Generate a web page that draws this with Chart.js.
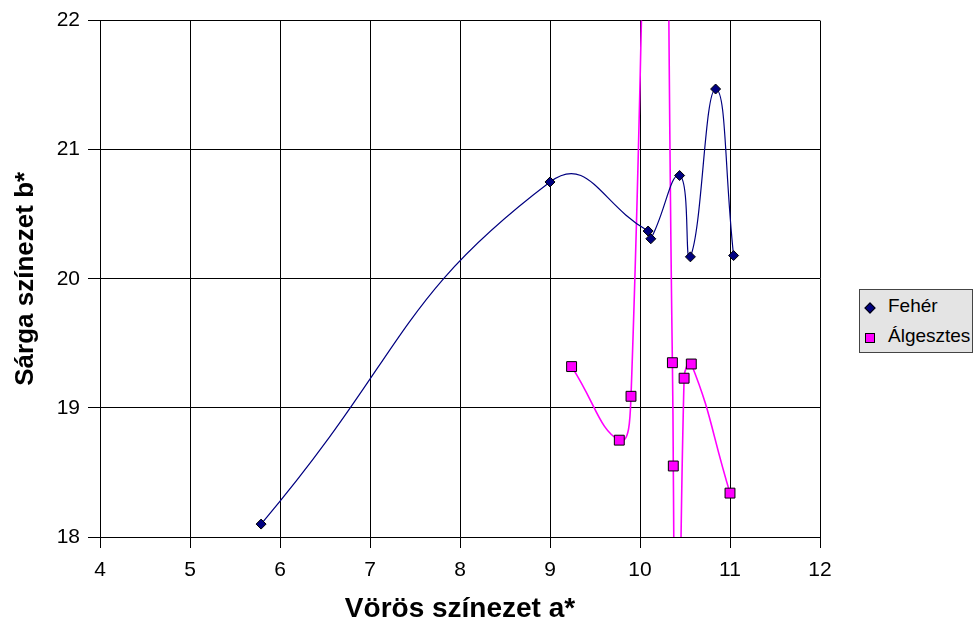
<!DOCTYPE html>
<html>
<head>
<meta charset="utf-8">
<script src="https://cdn.jsdelivr.net/npm/chart.js@4"></script>
<style>
  body { margin: 0; background: #fff; }
  #wrap { position: relative; width: 978px; height: 627px; }
  #legend {
    position: absolute; left: 859px; top: 289px; width: 112px; height: 62px;
    background: #e4e4e4; border: 1px solid #444;
    font: 19px "Liberation Sans", Arial, sans-serif; color: #000;
  }
  #legend div { position: absolute; left: 28px; }
  .dia { position: absolute; width: 6px; height: 6px; background: #000080; border: 1px solid #000; transform: rotate(45deg); }
  .sq  { position: absolute; width: 8px; height: 8px; background: #ff00ff; border: 1px solid #000; }
</style>
</head>
<body>
<div id="wrap">
  <canvas id="c" width="978" height="627"></canvas>
  <div id="legend">
    <span class="dia" style="left:6px;top:14px"></span><div style="top:5px">Fehér</div>
    <span class="sq" style="left:5px;top:43px"></span><div style="top:35px">Álgesztes</div>
  </div>
</div>
<script>
/* ---- data ---- */
const xTicks = [4, 5, 6, 7, 8, 9, 10, 11, 12];
const yTicks = [18, 19, 20, 21, 22];

const feherX = [5.79, 9.00, 10.09, 10.12, 10.44, 10.56, 10.84, 11.04];
const feherY = [18.10, 20.75, 20.37, 20.31, 20.80, 20.17, 21.47, 20.18];

/* two points fall off the axis range (line leaves the plot there) */
const algX = [9.24, 9.77, 9.90, 10.20, 10.36, 10.37, 10.41, 10.49, 10.57, 11.00];
const algY = [19.32, 18.75, 19.09, 27.0, 19.35, 18.55, 15.0, 19.23, 19.34, 18.34];

const pts = (xs, ys) => xs.map((x, i) => ({x, y: ys[i]}));
const inRange = ys => ys.map(y => (y >= 18 && y <= 22) ? 1 : 0);

const FONT = '"Liberation Sans", Arial, sans-serif';

new Chart(document.getElementById('c'), {
  type: 'scatter',
  data: {
    datasets: [
      {
        label: 'Fehér', data: pts(feherX, feherY), showLine: true,
        borderColor: '#000080', borderWidth: 1.2, tension: 0.5,
        pointStyle: 'rectRot', pointRadius: 5, pointBackgroundColor: '#000080',
        pointBorderColor: '#000', pointBorderWidth: 1
      },
      {
        label: 'Álgesztes', data: pts(algX, algY), showLine: true,
        borderColor: '#ff00ff', borderWidth: 1.6, tension: 0.5,
        pointStyle: 'rect', pointRadius: inRange(algY).map(v => v * 7),
        pointBackgroundColor: '#ff00ff', pointBorderColor: '#000', pointBorderWidth: 1
      }
    ]
  },
  options: {
    responsive: false,
    animation: false,
    devicePixelRatio: 1,
    layout: { padding: { top: 20, right: 158, left: 0, bottom: 0 } },
    elements: { line: { capBezierPoints: false } },
    plugins: { legend: { display: false }, tooltip: { enabled: false } },
    scales: {
      x: {
        type: 'linear', min: 4, max: 12,
        afterBuildTicks: s => { s.ticks = xTicks.map(v => ({value: v})); },
        afterFit: s => { s.height = 90; },
        grid: { color: '#000', lineWidth: 1, tickLength: 11 },
        border: { color: '#000', width: 1 },
        ticks: { color: '#000', font: { family: FONT, size: 21 }, padding: 10, maxRotation: 0 },
        title: { display: true, text: 'Vörös színezet a*', color: '#000',
                 font: { family: FONT, size: 28, weight: 'bold' }, padding: { top: 0, bottom: 1 } }
      },
      y: {
        type: 'linear', min: 18, max: 22,
        afterBuildTicks: s => { s.ticks = yTicks.map(v => ({value: v})); },
        afterFit: s => { s.width = 100; },
        grid: { color: '#000', lineWidth: 1, tickLength: 12 },
        border: { color: '#000', width: 1 },
        ticks: { color: '#000', font: { family: FONT, size: 21 }, padding: 8 },
        title: { display: true, text: 'Sárga színezet b*', color: '#000',
                 font: { family: FONT, size: 26, weight: 'bold' }, padding: { top: 10, bottom: 0 } }
      }
    }
  }
});
</script>
</body>
</html>
